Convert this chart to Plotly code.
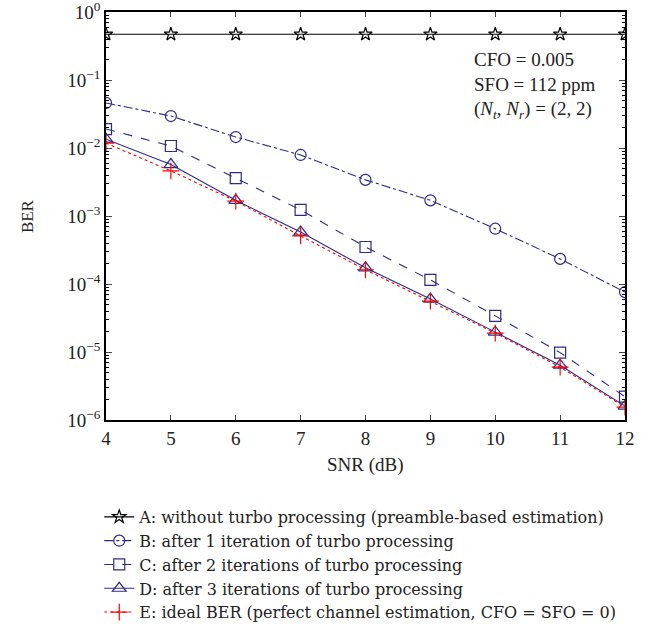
import plotly.graph_objects as go

snr = [4, 5, 6, 7, 8, 9, 10, 11, 12]
ber_a = [0.47, 0.47, 0.47, 0.47, 0.47, 0.47, 0.47, 0.47, 0.47]
ber_b = [0.046, 0.0295, 0.0145, 0.0079, 0.0034, 0.0017, 0.00065, 0.000234, 7.6e-5]
ber_c = [0.019, 0.0107, 0.0036, 0.00123, 0.00035, 0.000115, 3.4e-5, 9.8e-6, 2.2e-6]
ber_d = [0.0135, 0.0057, 0.0017, 0.00058, 0.000173, 6.0e-5, 1.96e-5, 6.4e-6, 1.6e-6]
ber_e = [0.0118, 0.0046, 0.00166, 0.00051, 0.000162, 5.6e-5, 1.9e-5, 6.0e-6, 1.55e-6]

names = [
    "A: without turbo processing (preamble-based estimation)",
    "B: after 1 iteration of turbo processing",
    "C: after 2 iterations of turbo processing",
    "D: after 3 iterations of turbo processing",
    "E: ideal BER (perfect channel estimation, CFO = SFO = 0)",
]
y_exps = [0, -1, -2, -3, -4, -5, -6]
y_ticktext = ["10<sup>%s</sup>" % (str(e).replace("-", "\u2212")) for e in y_exps]

NAVY = "#2b2b85"
FONT = "Liberation Serif"
LFONT = "DejaVu Serif"
TXT = "#222"

fig = go.Figure()
styles = [
    (ber_a, "black", "solid", "star-open", 10),
    (ber_b, NAVY, "dashdot", "circle-open", 11),
    (ber_c, NAVY, "dash", "square-open", 11),
    (ber_d, NAVY, "solid", "triangle-up-open", 12),
    (ber_e, "red", "dot", "cross-thin-open", 12),
]
for (ys, col, dash, sym, sz), nm in zip(styles, names):
    fig.add_trace(go.Scatter(
        x=snr, y=ys, name=nm, mode="lines+markers",
        line=dict(color=col, width=1.1, dash=dash),
        marker=dict(symbol=sym, size=sz, color=col, line=dict(color=col, width=1.2)),
    ))

minor_vals = [m * 10.0 ** e for e in range(-6, 0) for m in range(2, 10)]

fig.update_xaxes(
    range=[4, 12], dtick=1, tick0=4, ticks="inside", ticklen=5, tickwidth=1,
    showline=True, linecolor="black", linewidth=1.5, mirror="ticks",
    showgrid=False, zeroline=False, ticklabeloverflow="allow",
    tickfont=dict(family=FONT, size=19, color=TXT),
)
fig.update_yaxes(
    type="log", range=[-6, 0], tickmode="array",
    tickvals=[10.0 ** e for e in y_exps], ticktext=y_ticktext,
    ticks="inside", ticklen=6, tickwidth=1,
    minor=dict(ticks="inside", ticklen=3, tickvals=minor_vals, tickcolor="black", showgrid=False),
    showline=True, linecolor="black", linewidth=1.5, mirror="ticks",
    showgrid=False, zeroline=False, ticklabeloverflow="allow",
    tickfont=dict(family=FONT, size=19, color=TXT),
)

fig.add_annotation(
    xref="paper", yref="paper", x=0.705, y=0.914, xanchor="left", yanchor="top",
    align="left", showarrow=False,
    text="CFO = 0.005<br>SFO = 112 ppm<br>(<i>N</i><sub><i>t</i></sub>, <i>N</i><sub><i>r</i></sub>) = (2, 2)",
    font=dict(family=FONT, size=19, color=TXT),
)
# axis titles
fig.add_annotation(
    xref="paper", yref="paper", x=0.5, y=-0.11, xanchor="center", yanchor="middle",
    showarrow=False, text="SNR (dB)", font=dict(family=FONT, size=19, color=TXT),
)
fig.add_annotation(
    xref="paper", yref="paper", x=-0.152, y=0.5, xanchor="center", yanchor="middle",
    showarrow=False, text="BER", textangle=-90, font=dict(family=FONT, size=17, color=TXT),
)

fig.update_layout(
    width=654, height=638,
    margin=dict(l=106, r=29, t=12, b=218, autoexpand=False),
    paper_bgcolor="white", plot_bgcolor="white",
    showlegend=True,
    legend=dict(
        x=-0.013, y=-0.196, xanchor="left", yanchor="top",
        font=dict(family=LFONT, size=16, color=TXT),
        bgcolor="rgba(0,0,0,0)", tracegroupgap=0, itemwidth=30,
    ),
)

fig.write_html("out.html")
